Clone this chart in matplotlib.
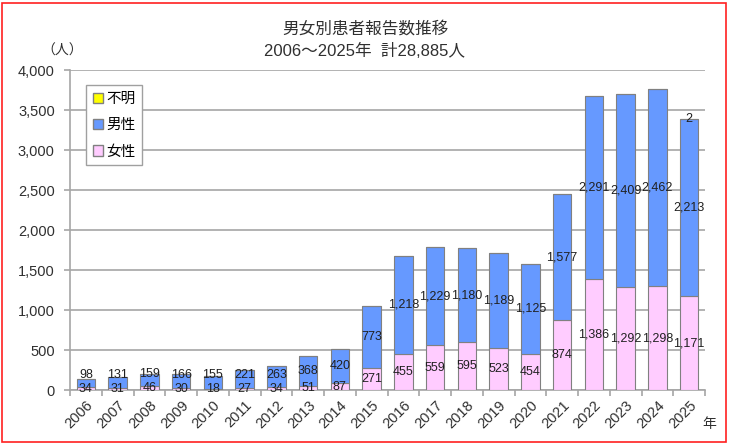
import matplotlib.pyplot as plt
import matplotlib.patches as mpatches
import numpy as np

plt.rcParams['font.family'] = ['Liberation Sans', 'Noto Sans CJK JP', 'DejaVu Sans']

# data
years = [str(y) for y in range(2006, 2026)]
female = [34, 31, 46, 30, 18, 27, 34, 51, 87, 271,
          455, 559, 595, 523, 454, 874, 1386, 1292, 1298, 1171]
male = [98, 131, 159, 166, 155, 221, 263, 368, 420, 773,
        1218, 1229, 1180, 1189, 1125, 1577, 2291, 2409, 2462, 2213]
unknown = [0, 0, 0, 0, 0, 0, 0, 0, 0, 0,
           0, 0, 0, 0, 0, 0, 0, 0, 0, 2]
yticks = [0, 500, 1000, 1500, 2000, 2500, 3000, 3500, 4000]

c_female = '#FFCCFF'
c_male = '#6699FF'
c_unknown = '#FFFF00'
edge = '#808080'

fig = plt.figure(figsize=(7.3, 4.44), dpi=100)
ax = fig.add_axes([0.0959, 0.1216, 0.8699, 0.7207])

x = np.arange(len(years))
female = np.array(female)
male = np.array(male)
unknown = np.array(unknown)
w = 0.58

ax.bar(x, female, w, color=c_female, edgecolor=edge, linewidth=0.8, zorder=3)
ax.bar(x, male, w, bottom=female, color=c_male, edgecolor=edge, linewidth=0.8, zorder=3)
ax.bar(x, unknown, w, bottom=female + male, color=c_unknown, edgecolor=edge, linewidth=0.8, zorder=3)

# value labels centered in each segment, male label pushed up when too close
min_gap = 175
for i in range(len(years)):
    yf = female[i] / 2
    ym = max(female[i] + male[i] / 2, yf + min_gap)
    ax.text(x[i], yf, f'{female[i]:,}', ha='center', va='center',
            fontsize=9, color='#202020', zorder=5)
    ax.text(x[i], ym, f'{male[i]:,}', ha='center', va='center',
            fontsize=9, color='#202020', zorder=5)
    if unknown[i] > 0:
        ax.text(x[i], female[i] + male[i] + unknown[i] / 2, f'{unknown[i]:,}',
                ha='center', va='center', fontsize=9, color='#202020', zorder=5)

ax.set_xlim(-0.5, len(years) - 0.5)
ax.set_ylim(0, 4000)
ax.set_yticks(yticks)
ax.set_yticklabels([f'{v:,}' for v in yticks], fontsize=10.5, color='#303030')
ax.yaxis.grid(True, color='#A6A6A6', linewidth=1.2, zorder=0)
ax.set_axisbelow(True)

# category ticks at boundaries, labels at centers
ax.set_xticks(np.arange(len(years) + 1) - 0.5)
ax.set_xticklabels([])
ax.set_xticks(x, minor=True)
ax.set_xticklabels(years, minor=True, rotation=45, ha='right',
                   rotation_mode='anchor', fontsize=10.5, color='#303030')
ax.tick_params(axis='x', which='minor', length=0, pad=6)
ax.tick_params(axis='x', which='major', length=4, color='#A6A6A6', width=1.2)
ax.tick_params(axis='y', length=4, color='#A6A6A6', width=1.2, pad=7)

for s in ['top', 'right']:
    ax.spines[s].set_visible(False)
for s in ['left', 'bottom']:
    ax.spines[s].set_color('#A6A6A6')
    ax.spines[s].set_linewidth(1.2)

# legend
handles = [
    mpatches.Patch(facecolor=c_unknown, edgecolor=edge, label='不明'),
    mpatches.Patch(facecolor=c_male, edgecolor=edge, label='男性'),
    mpatches.Patch(facecolor=c_female, edgecolor=edge, label='女性'),
]
leg = ax.legend(handles=handles, loc='upper left', bbox_to_anchor=(0.014, 0.975),
                fontsize=10.5, handlelength=0.7, handleheight=0.7,
                handletextpad=0.2, labelspacing=0.85, borderpad=0.45,
                fancybox=False, framealpha=1, edgecolor='#A0A0A0')
leg.get_frame().set_linewidth(1.0)

# titles and axis notes
fig.text(0.5, 0.935, '男女別患者報告数推移', ha='center', va='center',
         fontsize=12, color='#303030')
fig.text(0.5, 0.885, '2006～2025年  計28,885人', ha='center', va='center',
         fontsize=12, color='#303030')
fig.text(0.085, 0.885, '（人）', ha='center', va='center', fontsize=10, color='#303030')
fig.text(0.972, 0.045, '年', ha='center', va='center', fontsize=10, color='#303030')

# red frame round the picture
fig.patches.append(mpatches.Rectangle((0.003, 0.004), 0.992, 0.99, transform=fig.transFigure,
                                      fill=False, edgecolor='#FF2020', linewidth=1.2))

fig.savefig('out.png', dpi=100)
